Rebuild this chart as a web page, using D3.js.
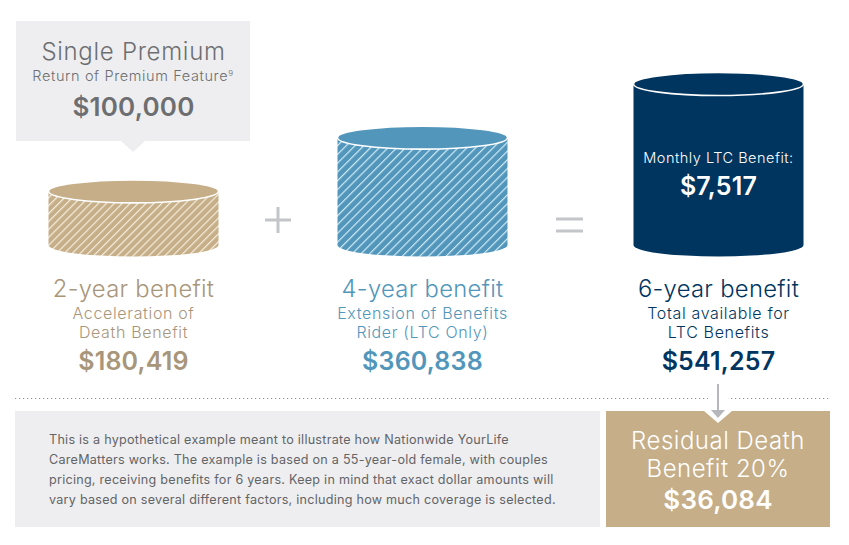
<!DOCTYPE html>
<html>
<head>
<meta charset="utf-8">
<script src="https://d3js.org/d3.v7.min.js"></script>
<style>
  html, body { margin: 0; padding: 0; background: #fff; }
  text { font-family: "Inter", "Open Sans", sans-serif; }
</style>
</head>
<body>
<script>
var svgWidth = 849;
var svgHeight = 545;

var gold = "#c5ae88";
var blue = "#5296bb";
var navy = "#00355f";
var grey = "#eeeef0";

// Each cylinder's height is its number of benefit years
var data = [
  { years: 2, name: "2-year benefit", sub: ["Acceleration of", "Death Benefit"], amount: "$180,419",
    cx: 133.5, fill: gold, textColor: "#a8967b", hatch: "hatchGold" },
  { years: 4, name: "4-year benefit", sub: ["Extension of Benefits", "Rider (LTC Only)"], amount: "$360,838",
    cx: 422.5, fill: blue, textColor: "#5296bb", hatch: "hatchBlue" },
  { years: 6, name: "6-year benefit", sub: ["Total available for", "LTC Benefits"], amount: "$541,257",
    cx: 718.5, fill: navy, textColor: "#00355f", hatch: null }
];

var svg = d3.select("body")
  .append("svg")
  .attr("width", svgWidth)
  .attr("height", svgHeight)
  .style("display", "block");

var yScale = d3.scaleLinear().domain([0, 6]).range([245, 84]);
var rx = 85;
var ry = 11.5;

// Diagonal hatching
var defs = svg.append("defs");
function hatch(id, color, stripe, size) {
  var p = defs.append("pattern")
    .attr("id", id)
    .attr("patternUnits", "userSpaceOnUse")
    .attr("width", size)
    .attr("height", size)
    .attr("patternTransform", "rotate(-45)");
  p.append("rect").attr("width", size).attr("height", size).attr("fill", color);
  p.append("rect").attr("width", size).attr("height", 1.2).attr("fill", stripe);
}
hatch("hatchGold", gold, "#f5eddc", 5.6);
hatch("hatchBlue", blue, "#cfeaf7", 6.2);

// Callout over the first cylinder
svg.append("path")
  .attr("d", "M16,21H250V141H145L133,152L121,141H16Z")
  .attr("fill", grey);

function label(x, y, str, size, color, weight, spacing, anchor) {
  return svg.append("text")
    .attr("x", x)
    .attr("y", y)
    .attr("text-anchor", anchor || "middle")
    .attr("font-size", size)
    .attr("font-weight", weight || 300)
    .attr("letter-spacing", spacing || 0)
    .attr("fill", color)
    .text(str);
}

label(133.5, 60, "Single Premium", 24, "#6d6e71", 300, 0.7);
var rop = label(133, 81, "Return of Premium Feature", 14.5, "#6d6e71", 300, 0.62);
rop.append("tspan").attr("font-size", 8).attr("dy", -5).text("9");
label(133.5, 116, "$100,000", 26, "#6d6e71", 600, 0.2);

// Cylinders
var cyl = svg.selectAll(".cyl")
  .data(data)
  .enter()
  .append("g")
  .attr("class", "cyl");

cyl.append("path")
  .attr("d", function(d) {
    var top = yScale(d.years);
    var bottom = yScale(0);
    return "M" + (d.cx - rx) + "," + top +
      "V" + bottom +
      "A" + rx + "," + ry + " 0 0 0 " + (d.cx + rx) + "," + bottom +
      "V" + top + "Z";
  })
  .attr("fill", function(d) { return d.hatch ? "url(#" + d.hatch + ")" : d.fill; });

cyl.append("ellipse")
  .attr("cx", function(d) { return d.cx; })
  .attr("cy", function(d) { return yScale(d.years); })
  .attr("rx", rx)
  .attr("ry", ry)
  .attr("fill", function(d) { return d.fill; })
  .attr("stroke", "#fff")
  .attr("stroke-width", 1.6);

// Text under each cylinder
data.forEach(function(d) {
  label(d.cx, 297, d.name, 23.8, d.textColor, 300, 0.3);
  label(d.cx, 318.5, d.sub[0], 16, d.textColor, 300, 0.65);
  label(d.cx, 338, d.sub[1], 16, d.textColor, 300, 0.65);
  label(d.cx, 370, d.amount, 25, d.textColor, 600, 0.2);
});

label(718.5, 163, "Monthly LTC Benefit:", 14.5, "#fff", 300, 0.5);
label(718.5, 195, "$7,517", 25, "#fff", 600, 0.2);

// Plus and equals
svg.append("path").attr("d", "M265,220H291M278,207V233").attr("stroke", "#c4c5c8").attr("stroke-width", 3).attr("fill", "none");
svg.append("path").attr("d", "M556,219H583M556,231H583").attr("stroke", "#c4c5c8").attr("stroke-width", 3).attr("fill", "none");

// Dotted divider
svg.append("line")
  .attr("x1", 15).attr("x2", 831)
  .attr("y1", 398.5).attr("y2", 398.5)
  .attr("stroke", "#8f9194")
  .attr("stroke-width", 1.2)
  .attr("stroke-dasharray", "1.2 2.8");

// Bottom panels
svg.append("rect").attr("x", 15).attr("y", 411).attr("width", 585).attr("height", 116).attr("fill", grey);
svg.append("rect").attr("x", 606).attr("y", 411).attr("width", 224).attr("height", 116).attr("fill", gold);
svg.append("path").attr("d", "M704,411H732L718,423Z").attr("fill", "#fff");

// Arrow down to residual benefit
svg.append("rect").attr("x", 708).attr("y", 385).attr("width", 20).attr("height", 26).attr("fill", "#fff");
svg.append("line").attr("x1", 718).attr("x2", 718).attr("y1", 384).attr("y2", 412).attr("stroke", "#b5b7ba").attr("stroke-width", 2);
svg.append("path").attr("d", "M711,410H725L718,418Z").attr("fill", "#b5b7ba");

label(718, 449, "Residual Death", 24, "#fff", 300, 0.5);
label(718, 477, "Benefit 20%", 24, "#fff", 300, 0.5);
label(718, 509, "$36,084", 26, "#fff", 600, 0.2);

var note = [
  "This is a hypothetical example meant to illustrate how Nationwide YourLife",
  "CareMatters works. The example is based on a 55-year-old female, with couples",
  "pricing, receiving benefits for 6 years. Keep in mind that exact dollar amounts will",
  "vary based on several different factors, including how much coverage is selected."
];
note.forEach(function(line, i) {
  label(49, 444 + i * 20, line, 12.6, "#636466", 400, 0.25, "start");
});
</script>
</body>
</html>
